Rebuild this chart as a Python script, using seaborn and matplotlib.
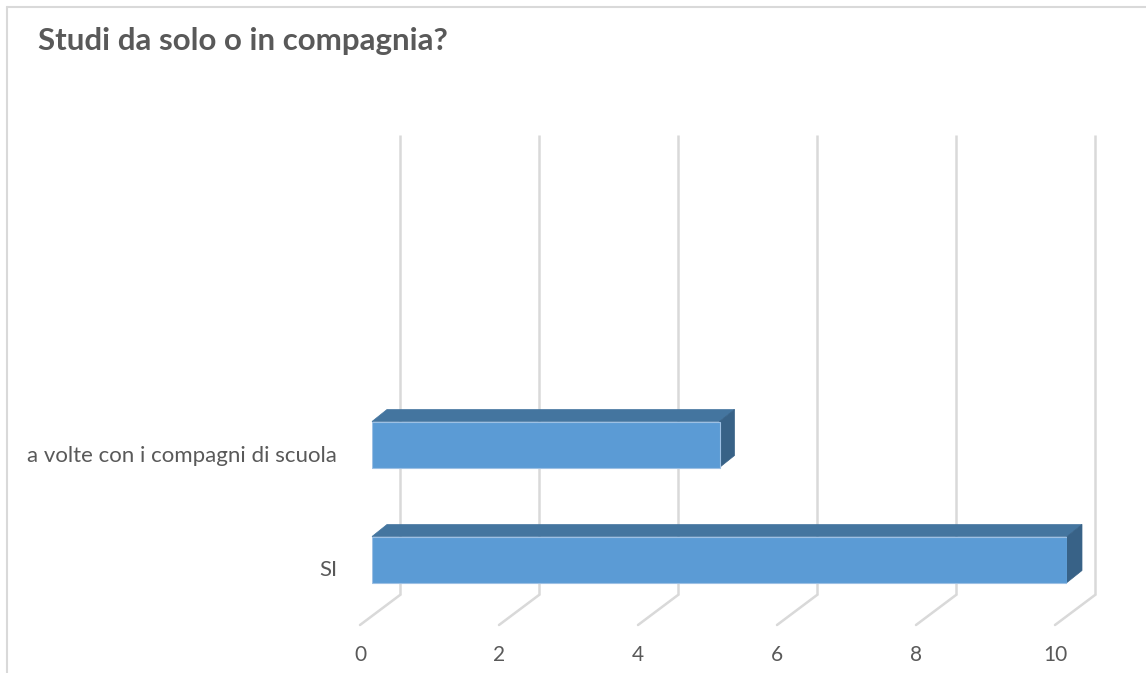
import matplotlib
matplotlib.use("Agg")
import matplotlib.pyplot as plt
import matplotlib.transforms as mtransforms
from matplotlib.patches import Polygon
from matplotlib.lines import Line2D
import seaborn as sns
import pandas as pd

# Survey answers and counts
categories = ["SI", "a volte con i compagni di scuola"]
counts = [10, 5]
x_ticks = [0, 2, 4, 6, 8, 10]
title = "Studi da solo o in compagnia?"

W, H, DPI = 1146, 673, 100
FRONT = "#5B9BD5"
TOP = "#44759F"
SIDE = "#386287"
EDGE = "#9DC0E4"
GRID = "#D9D9D9"
TEXT = "#595959"

sns.set_theme(style="white")
plt.rcParams["font.family"] = ["Lato", "DejaVu Sans"]

fig = plt.figure(figsize=(W / DPI, H / DPI), dpi=DPI)
fig.patch.set_facecolor("white")

# axes = front plane of the bars
ax = fig.add_axes([372 / W, (H - 617) / H, 695 / W, 460 / H])
ax.set_facecolor("none")

df = pd.DataFrame({"cat": categories, "n": counts})
sns.barplot(data=df, x="n", y="cat", order=categories, orient="h",
            color=FRONT, width=0.4, saturation=1, ax=ax,
            edgecolor=EDGE, linewidth=0.8, zorder=3)

ax.set_xlim(0, 10)
ax.set_ylim(-0.5, 3.5)
ax.set_xlabel("")
ax.set_ylabel("")
ax.set_xticks([])
ax.set_yticks([])
for s in ax.spines.values():
    s.set_visible(False)


def shifted(dx, dy):
    """Data transform shifted by a pixel offset (dy positive = upwards)."""
    return ax.transData + mtransforms.ScaledTranslation(dx / DPI, dy / DPI, fig.dpi_scale_trans)


back = shifted(28, 22)          # back wall
floor_front = shifted(-12, -8)  # front edge of the floor
y0, y1 = ax.get_ylim()

# back-wall gridlines and floor ticks
for t in x_ticks:
    ax.add_line(Line2D([t, t], [y0, y1], transform=back, color=GRID, lw=1.8,
                       zorder=1, clip_on=False, solid_capstyle="butt"))
    # floor diagonal from the wall foot to the front edge
    p_back = back.transform((t, y0))
    p_front = floor_front.transform((t, y0))
    ax.add_line(Line2D([p_back[0], p_front[0]], [p_back[1], p_front[1]],
                       transform=None, color=GRID, lw=1.8, zorder=1, clip_on=False))
    ax.text(t, y0, str(t), transform=shifted(-12, -38), ha="center", va="center",
            fontsize=15, color=TEXT)

# category labels
for i, c in enumerate(categories):
    ax.text(0, i, c, transform=shifted(-35, -11), ha="right", va="center",
            fontsize=16, color=TEXT)

# depth faces of each bar
DX, DY = 15, 12
inv = ax.transData.inverted()
for p in list(ax.patches):
    x0b, yb0 = p.get_x(), p.get_y()
    x1b, yb1 = x0b + p.get_width(), yb0 + p.get_height()
    ytop = max(yb0, yb1)
    ybot = min(yb0, yb1)
    a = ax.transData.transform([(x0b, ytop), (x1b, ytop), (x1b, ybot)])
    top = [a[0], a[1], a[1] + (DX, DY), a[0] + (DX, DY)]
    side = [a[1], a[2], a[2] + (DX, DY), a[1] + (DX, DY)]
    ax.add_patch(Polygon(inv.transform(top), closed=True, facecolor=TOP,
                         edgecolor=TOP, lw=0.5, zorder=2.5, clip_on=False))
    ax.add_patch(Polygon(inv.transform(side), closed=True, facecolor=SIDE,
                         edgecolor=SIDE, lw=0.5, zorder=2.5, clip_on=False))

# title
fig.text(38 / W, 1 - 50 / H, title, fontsize=22.5, fontweight="bold",
         color=TEXT, va="baseline", ha="left")

# chart frame (left and top edges)
fig.add_artist(Line2D([6.5 / W, 6.5 / W], [0, 1 - 6.5 / H], transform=fig.transFigure,
                      color=GRID, lw=1.5))
fig.add_artist(Line2D([6.5 / W, 1], [1 - 6.5 / H, 1 - 6.5 / H], transform=fig.transFigure,
                      color=GRID, lw=1.5))

fig.savefig("out.png", dpi=DPI)
